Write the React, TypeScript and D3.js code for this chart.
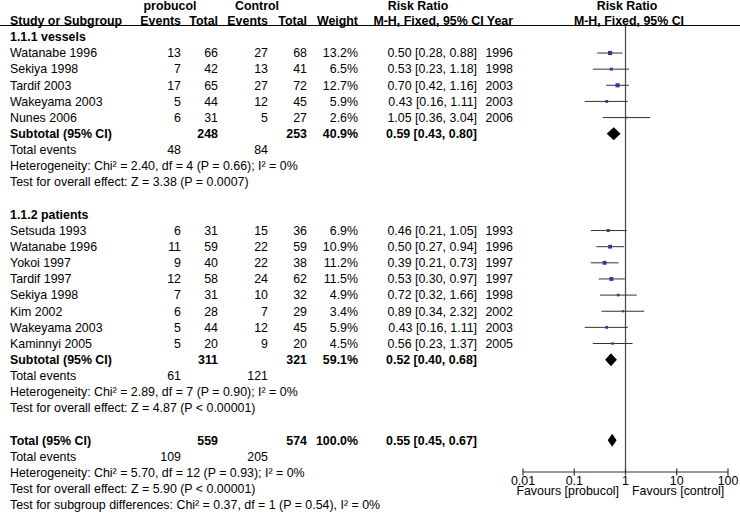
import React from "react";
import { scaleLog, scaleLinear } from "d3";

// study rows, per subgroup
const studies1 = ["Watanabe 1996", "Sekiya 1998", "Tardif 2003", "Wakeyama 2003", "Nunes 2006"];
const probEvents1 = [13, 7, 17, 5, 6];
const probTotal1 = [66, 42, 65, 44, 31];
const ctrlEvents1 = [27, 13, 27, 12, 5];
const ctrlTotal1 = [68, 41, 72, 45, 27];
const weight1 = [13.2, 6.5, 12.7, 5.9, 2.6];
const rr1 = [0.5, 0.53, 0.7, 0.43, 1.05];
const lo1 = [0.28, 0.23, 0.42, 0.16, 0.36];
const hi1 = [0.88, 1.18, 1.16, 1.11, 3.04];
const year1 = [1996, 1998, 2003, 2003, 2006];

const studies2 = ["Setsuda 1993", "Watanabe 1996", "Yokoi 1997", "Tardif 1997", "Sekiya 1998", "Kim 2002", "Wakeyama 2003", "Kaminnyi 2005"];
const probEvents2 = [6, 11, 9, 12, 7, 6, 5, 5];
const probTotal2 = [31, 59, 40, 58, 31, 28, 44, 20];
const ctrlEvents2 = [15, 22, 22, 24, 10, 7, 12, 9];
const ctrlTotal2 = [36, 59, 38, 62, 32, 29, 45, 20];
const weight2 = [6.9, 10.9, 11.2, 11.5, 4.9, 3.4, 5.9, 4.5];
const rr2 = [0.46, 0.5, 0.39, 0.53, 0.72, 0.89, 0.43, 0.56];
const lo2 = [0.21, 0.27, 0.21, 0.3, 0.32, 0.34, 0.16, 0.23];
const hi2 = [1.05, 0.94, 0.73, 0.97, 1.66, 2.32, 1.11, 1.37];
const year2 = [1993, 1996, 1997, 1997, 1998, 2002, 2003, 2005];

// pooled: vessels, patients, overall
const pooledLabel = ["Subtotal (95% CI)", "Subtotal (95% CI)", "Total (95% CI)"];
const pooledProbTotal = [248, 311, 559];
const pooledCtrlTotal = [253, 321, 574];
const pooledWeight = ["40.9%", "59.1%", "100.0%"];
const pooledRR = [0.59, 0.52, 0.55];
const pooledLo = [0.43, 0.4, 0.45];
const pooledHi = [0.8, 0.68, 0.67];
const pooledProbEvents = [48, 61, 109];
const pooledCtrlEvents = [84, 121, 205];
const heterogeneity = [
  "Heterogeneity: Chi² = 2.40, df = 4 (P = 0.66); I² = 0%",
  "Heterogeneity: Chi² = 2.89, df = 7 (P = 0.90); I² = 0%",
  "Heterogeneity: Chi² = 5.70, df = 12 (P = 0.93); I² = 0%",
];
const overallEffect = [
  "Test for overall effect: Z = 3.38 (P = 0.0007)",
  "Test for overall effect: Z = 4.87 (P < 0.00001)",
  "Test for overall effect: Z = 5.90 (P < 0.00001)",
];
const subgroupTest = "Test for subgroup differences: Chi² = 0.37, df = 1 (P = 0.54), I² = 0%";
const groupTitles = ["1.1.1 vessels", "1.1.2 patients"];

const tickValues = [0.01, 0.1, 1, 10, 100];
const tickLabels = ["0.01", "0.1", "1", "10", "100"];

const fmt = (v: number) => v.toFixed(2);
const ciText = (r: number, l: number, h: number) => `${fmt(r)} [${fmt(l)}, ${fmt(h)}]`;

export default function App() {
  const width = 740;
  const height = 515;
  const fs = 12.4;
  const font = "'Liberation Sans', Arial, sans-serif";

  // column anchors
  const col = { study: 10, pe: 181, pt: 218, ce: 268, ct: 307, w: 358, ci: 477, year: 513 };
  const x = scaleLog().domain([0.01, 100]).range([523, 728]);
  const y = scaleLinear().domain([0, 31]).range([4.6, 504.9]);
  const axisY = 472;
  const marker = "#35359a";
  const topY = 6;

  const groups = [
    { title: groupTitles[0], start: 3, names: studies1, pe: probEvents1, pt: probTotal1, ce: ctrlEvents1, ct: ctrlTotal1, w: weight1, rr: rr1, lo: lo1, hi: hi1, yr: year1 },
    { title: groupTitles[1], start: 14, names: studies2, pe: probEvents2, pt: probTotal2, ce: ctrlEvents2, ct: ctrlTotal2, w: weight2, rr: rr2, lo: lo2, hi: hi2, yr: year2 },
  ];
  const pooledRows = [8, 22, 27];

  const T = (props: any) => (
    <text dy="0.35em" fontSize={fs} fontFamily={font} fill="#000" {...props} />
  );

  const diamond = (r: number, l: number, h: number, yc: number) => {
    const hh = 6.5;
    return `M${x(l)},${yc} L${x(r)},${yc - hh} L${x(h)},${yc} L${x(r)},${yc + hh} Z`;
  };

  return (
    <svg width={width} height={height} style={{ position: "absolute", left: 0, top: 0, background: "#fff" }}>
      {/* header */}
      <T x={170} y={topY} textAnchor="middle" fontWeight="bold">probucol</T>
      <T x={257} y={topY} textAnchor="middle" fontWeight="bold">Control</T>
      <T x={418} y={topY} textAnchor="middle" fontWeight="bold">Risk Ratio</T>
      <T x={627} y={topY} textAnchor="middle" fontWeight="bold">Risk Ratio</T>
      <T x={col.study} y={y(1)} fontWeight="bold">Study or Subgroup</T>
      <T x={col.pe} y={y(1)} textAnchor="end" fontWeight="bold">Events</T>
      <T x={col.pt} y={y(1)} textAnchor="end" fontWeight="bold">Total</T>
      <T x={col.ce} y={y(1)} textAnchor="end" fontWeight="bold">Events</T>
      <T x={col.ct} y={y(1)} textAnchor="end" fontWeight="bold">Total</T>
      <T x={col.w} y={y(1)} textAnchor="end" fontWeight="bold">Weight</T>
      <T x={col.year} y={y(1)} textAnchor="end" fontWeight="bold">M-H, Fixed, 95% CI Year</T>
      <T x={629} y={y(1)} textAnchor="middle" fontWeight="bold">M-H, Fixed, 95% CI</T>
      <line x1={0} x2={width} y1={25.5} y2={25.5} stroke="#000" strokeWidth={1} />

      {/* line of no effect */}
      <line x1={x(1)} x2={x(1)} y1={25.5} y2={axisY} stroke="#444" strokeWidth={1.2} />

      {groups.map((g, gi) => (
        <g key={gi}>
          <T x={col.study} y={y(g.start - 1)} fontWeight="bold">{g.title}</T>
          {g.names.map((n, i) => {
            const yc = y(g.start + i);
            const s = 1.15 * Math.sqrt(g.w[i]);
            return (
              <g key={i}>
                <T x={col.study} y={yc}>{n}</T>
                <T x={col.pe} y={yc} textAnchor="end">{g.pe[i]}</T>
                <T x={col.pt} y={yc} textAnchor="end">{g.pt[i]}</T>
                <T x={col.ce} y={yc} textAnchor="end">{g.ce[i]}</T>
                <T x={col.ct} y={yc} textAnchor="end">{g.ct[i]}</T>
                <T x={col.w} y={yc} textAnchor="end">{g.w[i].toFixed(1)}%</T>
                <T x={col.ci} y={yc} textAnchor="end">{ciText(g.rr[i], g.lo[i], g.hi[i])}</T>
                <T x={col.year} y={yc} textAnchor="end">{g.yr[i]}</T>
                <line x1={x(g.lo[i])} x2={x(g.hi[i])} y1={yc} y2={yc} stroke="#333" strokeWidth={1} />
                <rect x={x(g.rr[i]) - s / 2} y={yc - s / 2} width={s} height={s} fill={marker} />
              </g>
            );
          })}
        </g>
      ))}

      {pooledRows.map((r, k) => {
        const yc = y(r);
        return (
          <g key={k}>
            <T x={col.study} y={yc} fontWeight="bold">{pooledLabel[k]}</T>
            <T x={col.pt} y={yc} textAnchor="end" fontWeight="bold">{pooledProbTotal[k]}</T>
            <T x={col.ct} y={yc} textAnchor="end" fontWeight="bold">{pooledCtrlTotal[k]}</T>
            <T x={col.w} y={yc} textAnchor="end" fontWeight="bold">{pooledWeight[k]}</T>
            <T x={col.ci} y={yc} textAnchor="end" fontWeight="bold">{ciText(pooledRR[k], pooledLo[k], pooledHi[k])}</T>
            <path d={diamond(pooledRR[k], pooledLo[k], pooledHi[k], yc)} fill="#000" />
            <T x={col.study} y={y(r + 1)}>Total events</T>
            <T x={col.pe} y={y(r + 1)} textAnchor="end">{pooledProbEvents[k]}</T>
            <T x={col.ce} y={y(r + 1)} textAnchor="end">{pooledCtrlEvents[k]}</T>
            <T x={col.study} y={y(r + 2)}>{heterogeneity[k]}</T>
            <T x={col.study} y={y(r + 3)}>{overallEffect[k]}</T>
          </g>
        );
      })}
      <T x={col.study} y={y(31)}>{subgroupTest}</T>

      {/* axis */}
      <line x1={x(0.01)} x2={x(100)} y1={axisY} y2={axisY} stroke="#333" strokeWidth={1.2} />
      {tickValues.map((t, i) => (
        <g key={i}>
          <line x1={x(t)} x2={x(t)} y1={axisY - 3.5} y2={axisY + 3.5} stroke="#333" strokeWidth={1.2} />
          <T x={x(t)} y={axisY + 8.5} textAnchor="middle">{tickLabels[i]}</T>
        </g>
      ))}
      <T x={619} y={axisY + 19} textAnchor="end">Favours [probucol]</T>
      <T x={632} y={axisY + 19}>Favours [control]</T>
    </svg>
  );
}
